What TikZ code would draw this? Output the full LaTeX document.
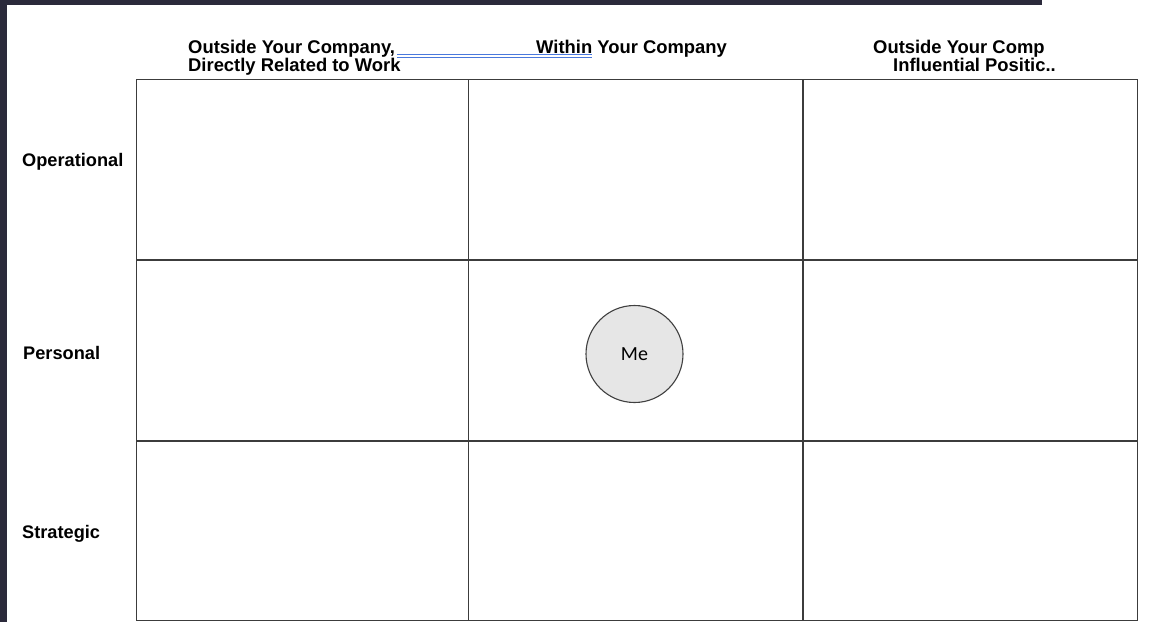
\documentclass[tikz,border=0pt]{standalone}
\usepackage{fontspec}
\setmainfont{Liberation Sans}
\newfontfamily\mefont{Carlito}
\usepackage{tikz}
\usepackage{xcolor}
\definecolor{screendark}{HTML}{2B2A3B}
\definecolor{gridline}{HTML}{3C3C3C}
\definecolor{mefill}{HTML}{E6E6E6}
\definecolor{spellblue}{HTML}{4A78DC}

\begin{document}
\begin{tikzpicture}[x=1pt, y=-1pt,
    cell/.style={draw=gridline, line width=1.7pt, inner sep=0pt, anchor=north west},
    hdr/.style={inner sep=0pt, anchor=base west, font=\bfseries\fontsize{18.4}{19}\selectfont},
    rowlabel/.style={inner sep=0pt, anchor=base west, font=\bfseries\fontsize{18.2}{19}\selectfont},
    mecircle/.style={circle, draw=black!75, line width=1.1pt, fill=mefill, minimum size=97pt,
        inner sep=0pt, font=\mefont\fontsize{20}{22}\selectfont}]

    % Page and screen edges
    \useasboundingbox (0,0) rectangle (1152,622);
    \fill[white] (0,0) rectangle (1152,622);
    \fill[screendark] (0,0) rectangle (7,622);
    \fill[screendark] (0,0) rectangle (1042,5);

    % Grid
    \foreach \c/\xa/\w in {1/135.5/332, 2/467.5/334.5, 3/802/334.5}
        \foreach \r/\ya/\h in {1/78.5/180.5, 2/259/181, 3/440/179.5}
            \node[cell, minimum width=\w pt, minimum height=\h pt] (c\r\c) at (\xa,\ya) {};

    % Column headers
    \node[hdr] (outsidework) at (188,53) {Outside Your Company,};
    \node[hdr] (outsideworkb) at (188,71.5) {Directly Related to Work};
    \node[hdr] (within) at (536,53) {Within Your Company};
    \node[hdr] (outsideinfl) at (873,53) {Outside Your Comp};
    \node[hdr] (outsideinflb) at (893,71.5) {Influential Positic..};

    % spell-check underline
    \draw[spellblue, line width=0.7pt] (397,54.5) -- (592,54.5);
    \draw[spellblue, line width=0.7pt] (397,57) -- (592,57);

    % Row labels
    \node[rowlabel] (operational) at (22,166) {Operational};
    \node[rowlabel] (personal) at (23,359) {Personal};
    \node[rowlabel] (strategic) at (22,538) {Strategic};

    % Me
    \node[mecircle] (me) at (634.5,354) {Me};
\end{tikzpicture}
\end{document}
